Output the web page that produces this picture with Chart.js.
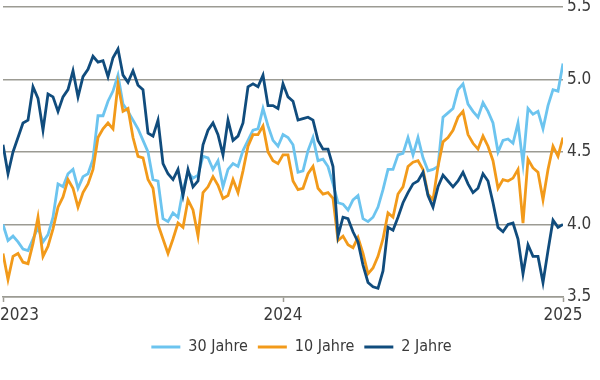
<!DOCTYPE html>
<html>
<head>
<meta charset="utf-8">
<script src="https://cdn.jsdelivr.net/npm/chart.js@4"></script>
<style>
  body { margin: 0; background: #fff; }
  #wrap { width: 600px; height: 380px; }
</style>
</head>
<body>
<div id="wrap"><canvas id="yieldChart"></canvas></div>
<script>
// Renditen US-Staatsanleihen, ca. wöchentlich 2023 - 2025 (in %)
const seriesNames = ['30 Jahre', '10 Jahre', '2 Jahre'];
const seriesColors = ['#6cc4ef', '#f29a1a', '#104c7d'];

const yield30 = [
    4.00, 3.89, 3.92, 3.88, 3.83, 3.82, 3.90, 3.98, 3.88, 3.93,
    4.05, 4.28, 4.26, 4.35, 4.38, 4.25, 4.33, 4.35, 4.45, 4.75,
    4.75, 4.85, 4.92, 5.03, 4.83, 4.78, 4.72, 4.66, 4.58, 4.50,
    4.31, 4.30, 4.04, 4.02, 4.08, 4.05, 4.24, 4.36, 4.32, 4.34,
    4.47, 4.46, 4.38, 4.44, 4.26, 4.38, 4.42, 4.40, 4.51, 4.58,
    4.65, 4.66, 4.80, 4.68, 4.58, 4.54, 4.62, 4.60, 4.55, 4.36,
    4.37, 4.51, 4.60, 4.44, 4.45, 4.40, 4.28, 4.15, 4.14, 4.10,
    4.17, 4.20, 4.04, 4.02, 4.05, 4.12, 4.24, 4.38, 4.38, 4.48,
    4.49, 4.60, 4.48, 4.60, 4.46, 4.37, 4.38, 4.40, 4.74, 4.77,
    4.80, 4.93, 4.97, 4.83, 4.78, 4.74, 4.84, 4.78, 4.70, 4.50,
    4.58, 4.59, 4.56, 4.70, 4.42, 4.80, 4.76, 4.78, 4.66, 4.82,
    4.93, 4.92, 5.11
];

const yield10 = [
    3.80, 3.62, 3.78, 3.80, 3.74, 3.73, 3.87, 4.05, 3.78, 3.85,
    3.97, 4.12, 4.19, 4.31, 4.25, 4.12, 4.22, 4.28, 4.38, 4.60,
    4.66, 4.70, 4.66, 4.97, 4.78, 4.80, 4.60, 4.47, 4.46, 4.31,
    4.25, 4.00, 3.90, 3.80, 3.90, 4.01, 3.98, 4.17, 4.10, 3.92,
    4.22, 4.26, 4.33, 4.27, 4.18, 4.20, 4.31, 4.22, 4.37, 4.54,
    4.62, 4.62, 4.68, 4.50, 4.44, 4.42, 4.48, 4.48, 4.30, 4.24,
    4.25, 4.35, 4.40, 4.25, 4.21, 4.22, 4.18, 3.89, 3.92, 3.86,
    3.84, 3.91, 3.80, 3.66, 3.70, 3.78, 3.90, 4.08, 4.05, 4.21,
    4.26, 4.40, 4.43, 4.44, 4.38, 4.21, 4.17, 4.40, 4.57, 4.60,
    4.65, 4.74, 4.78, 4.62, 4.56, 4.52, 4.61, 4.54, 4.44, 4.25,
    4.31, 4.30, 4.32, 4.38, 4.01, 4.45, 4.39, 4.36, 4.17, 4.38,
    4.54, 4.47, 4.60
];

const yield2 = [
    4.55, 4.35, 4.50, 4.60, 4.70, 4.72, 4.95, 4.87, 4.65, 4.90,
    4.88, 4.78, 4.88, 4.93, 5.06, 4.88, 5.02, 5.07, 5.16, 5.12,
    5.13, 5.02, 5.15, 5.21, 5.03, 4.98, 5.06, 4.96, 4.93, 4.63,
    4.61, 4.72, 4.42, 4.35, 4.31, 4.38, 4.20, 4.38, 4.26, 4.30,
    4.55, 4.65, 4.70, 4.62, 4.48, 4.72, 4.58, 4.61, 4.70, 4.95,
    4.97, 4.95, 5.03, 4.82, 4.82, 4.80, 4.97, 4.88, 4.85, 4.72,
    4.73, 4.74, 4.72, 4.58, 4.52, 4.52, 4.40, 3.92, 4.05, 4.04,
    3.95, 3.88, 3.72, 3.60, 3.57, 3.56, 3.68, 3.98, 3.96, 4.05,
    4.15, 4.22, 4.28, 4.30, 4.36, 4.20, 4.12, 4.26, 4.34, 4.30,
    4.26, 4.30, 4.36, 4.28, 4.22, 4.25, 4.35, 4.30, 4.15, 3.98,
    3.95, 4.00, 4.01, 3.90, 3.66, 3.86, 3.78, 3.78, 3.60, 3.82,
    4.03, 3.98, 4.00
];

// x-Achse: Jahresanfänge als Index in den Reihen
const yearLabels = ['2023', '2024', '2025'];
const yearTickIndex = [0, 56, 112];

const gridColor = '#9c9b93';
const textColor = '#3a3a3a';

Chart.defaults.font.family = "'Liberation Sans Narrow', 'DejaVu Sans Condensed', 'Roboto', sans-serif";
Chart.defaults.color = textColor;

function toPoints(values) {
    return values.map((v, i) => ({ x: i, y: v }));
}

const allSeries = [yield30, yield10, yield2];

const yieldData = {
    datasets: allSeries.map((values, k) => ({
        label: seriesNames[k],
        data: toPoints(values),
        borderColor: seriesColors[k],
        backgroundColor: seriesColors[k],
        borderWidth: 2.8,
        pointRadius: 0,
        tension: 0,
        order: 3 - k // 2 Jahre obenauf
    }))
};

// erstes Jahreslabel linksbündig an den Rand setzen
const edgeLabels = {
    id: 'edgeLabels',
    beforeDraw(chart) {
        const items = chart.scales.x.getLabelItems();
        if (items.length) {
            items[0].options.textAlign = 'left';
            items[0].options.translation[0] = 0;
        }
    }
};

const yieldConfig = {
    type: 'line',
    data: yieldData,
    plugins: [edgeLabels],
    options: {
        responsive: true,
        maintainAspectRatio: false,
        animation: false,
        layout: {
            padding: { left: 3, right: 0, top: 0, bottom: 15 }
        },
        plugins: {
            tooltip: { enabled: false },
            legend: {
                position: 'bottom',
                labels: {
                    boxWidth: 29,
                    boxHeight: 3,
                    padding: 10,
                    color: textColor,
                    font: { size: 16 },
                    sort: (a, b) => a.datasetIndex - b.datasetIndex,
                    generateLabels: (chart) =>
                        Chart.defaults.plugins.legend.labels.generateLabels(chart)
                            .map(l => ({ ...l, lineWidth: 0 }))
                }
            }
        },
        scales: {
            x: {
                type: 'linear',
                min: 0,
                max: yearTickIndex[yearTickIndex.length - 1],
                afterBuildTicks: (scale) => {
                    scale.ticks = yearTickIndex.map(v => ({ value: v }));
                },
                afterFit: (scale) => {
                    scale.height = 32;
                    scale.paddingLeft = 0;
                    scale.paddingRight = 0;
                },
                grid: {
                    drawOnChartArea: false,
                    drawTicks: true,
                    tickLength: 5,
                    tickWidth: 1.5,
                    tickColor: gridColor
                },
                border: { color: gridColor, width: 1.5 },
                ticks: {
                    padding: 3,
                    maxRotation: 0,
                    autoSkip: false,
                    color: textColor,
                    font: { size: 17 },
                    callback: (value) => yearLabels[yearTickIndex.indexOf(value)]
                }
            },
            y: {
                position: 'right',
                min: 3.5,
                max: 5.5,
                afterFit: (scale) => {
                    scale.width = 37;
                    scale.paddingTop = 7;
                    scale.paddingBottom = 0;
                },
                grid: {
                    color: gridColor,
                    lineWidth: 1.5,
                    drawTicks: false
                },
                border: { display: false },
                ticks: {
                    stepSize: 0.5,
                    padding: 4,
                    color: textColor,
                    font: { size: 17 },
                    callback: (value) => value.toFixed(1)
                }
            }
        }
    }
};

const yieldChart = new Chart(
    document.getElementById('yieldChart'),
    yieldConfig
);
</script>
</body>
</html>
